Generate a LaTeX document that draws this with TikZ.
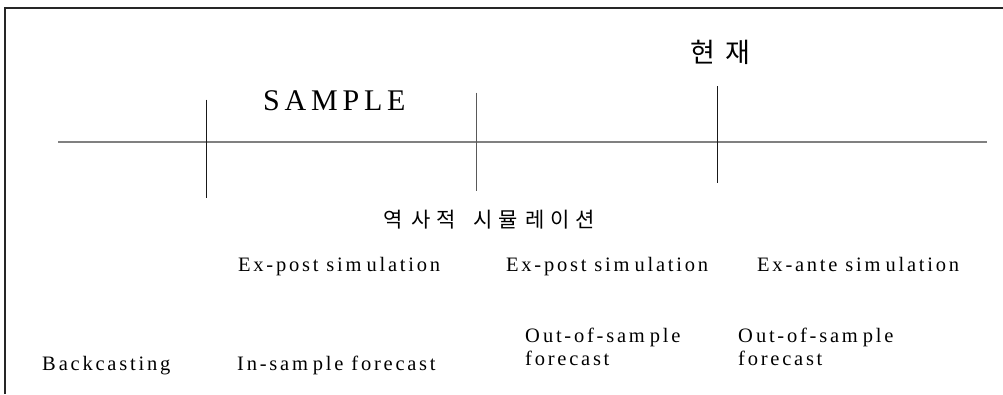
\documentclass[tikz,border=0pt]{standalone}
\usepackage{fontspec}
\setmainfont{Liberation Serif}
\newfontfamily\trk[LetterSpace=13.5]{Liberation Serif}
\newfontfamily\trkbig[LetterSpace=16]{Liberation Serif}
\newfontfamily\kr{Noto Sans CJK KR}
\begin{document}
\begin{tikzpicture}[x=1pt,y=-1pt,
  lbl/.style={anchor=base west,inner sep=0pt,font=\trk\fontsize{20.5}{23.5}\selectfont,align=left},
  krs/.style={anchor=base west,inner sep=0pt,font=\kr\fontsize{21}{24}\selectfont},
  krb/.style={anchor=base west,inner sep=0pt,font=\kr\fontsize{27}{30}\selectfont},
  axis/.style={draw=black!50,line width=1.1pt},
  tick/.style={draw=black!90,line width=1pt},
  frame/.style={draw=black!85,line width=1.4pt}]
\useasboundingbox (0,0) rectangle (1003,394);
% frame (cut at right and bottom)
\coordinate (fa) at (5,394);
\coordinate (fb) at (5,8);
\coordinate (fc) at (1003,8);
\draw[frame] (fa) -- (fb) -- (fc);
% time axis
\coordinate (axL) at (58,142);
\coordinate (axR) at (987,142);
\draw[axis] (axL) -- (axR);
\coordinate (t1a) at (206.7,99.5);  \coordinate (t1b) at (206.7,198);
\coordinate (t2a) at (476,92.5);    \coordinate (t2b) at (476,191);
\coordinate (t3a) at (717.7,86);    \coordinate (t3b) at (717.7,183);
\draw[tick] (t1a) -- (t1b);
\draw[tick,draw=black!65] (t2a) -- (t2b);
\draw[tick] (t3a) -- (t3b);
% 현재
\node[krb] (now1) at (690.5,62.5) {현};
\node[krb] (now2) at (725.5,62.5) {재};
% SAMPLE
\node[anchor=base west,inner sep=0pt,font=\trkbig\fontsize{30}{34}\selectfont] (sample) at (263,110.7) {SAMPLE};
% 역사적 시뮬레이션
\node[krs] (k1) at (383.5,227.5) {역};
\node[krs] (k2) at (411.5,227.5) {사};
\node[krs] (k3) at (436.5,227.5) {적};
\node[krs] (k4) at (473.5,227.5) {시};
\node[krs] (k5) at (498.5,227.5) {뮬};
\node[krs] (k6) at (525.5,227.5) {레};
\node[krs] (k7) at (550.5,227.5) {이};
\node[krs] (k8) at (575.5,227.5) {션};
% labels
\node[lbl] (ep1) at (238,271.7) {Ex-post sim\kern5pt ulation};
\node[lbl] (ep2) at (506,271.7) {Ex-post sim\kern5pt ulation};
\node[lbl] (ea) at (757,271.7) {Ex-ante sim\kern5pt ulation};
\node[lbl] (bc) at (42,370) {B\kern3pt ackcasting};
\node[lbl] (is) at (237,370) {In-sam\kern5pt ple forecast};
\node[lbl] (os1) at (525,365.5) {O\kern3pt ut-of-sam\kern5pt ple\\forecast};
\node[lbl] (os2) at (738,365.5) {O\kern3pt ut-of-sam\kern5pt ple\\forecast};
\end{tikzpicture}
\end{document}
